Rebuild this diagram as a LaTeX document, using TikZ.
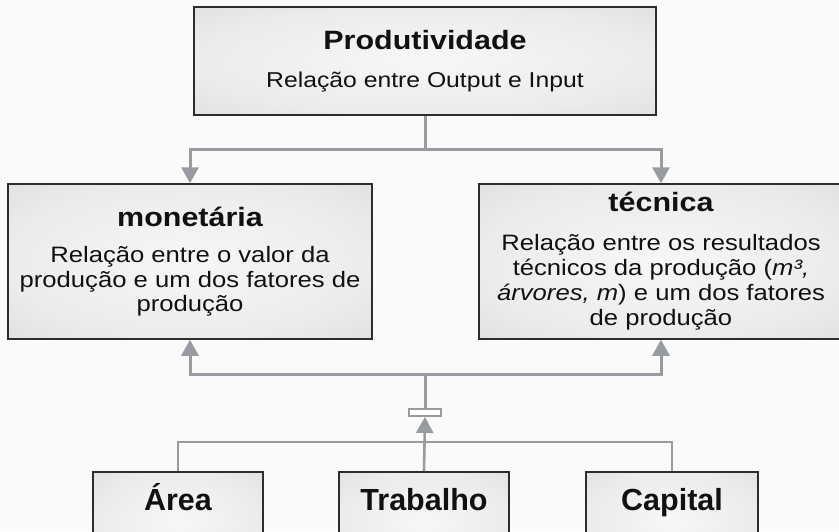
\documentclass[tikz,border=0pt]{standalone}
\usepackage{fontspec}
\setmainfont{Liberation Sans}[FakeStretch=1.15]
\newfontfamily\narrowsans{Liberation Sans}
\usetikzlibrary{arrows.meta}
\definecolor{boxin}{RGB}{247,247,247}
\definecolor{boxout}{RGB}{208,208,210}
\definecolor{conncol}{RGB}{152,156,161}
\definecolor{bordercol}{RGB}{45,45,47}
\definecolor{bgcol}{RGB}{250,250,250}
\definecolor{txtcol}{RGB}{17,17,17}
\pgfdeclareradialshading{boxshade}{\pgfpoint{0bp}{0bp}}{color(0bp)=(boxin); color(25bp)=(boxin!70!boxout); color(55bp)=(boxout); color(75bp)=(boxout)}
\tikzset{
  box/.style={draw=bordercol, line width=1.5pt, shading=boxshade, text=txtcol, align=center, inner sep=0pt},
  conn/.style={draw=conncol, line width=3pt},
  lconn/.style={draw=conncol, line width=2.6pt},
  tip/.style={-{Triangle[width=17pt,length=16pt]}},
  barnode/.style={draw=conncol, fill=white, line width=1.8pt, minimum width=32pt, minimum height=7pt, inner sep=0pt},
  bottombox/.style={box, anchor=north, minimum height=100pt, text height=39pt, text depth=61pt, font=\narrowsans\fontsize{30.5}{34}\selectfont\bfseries}
}
\begin{document}
\begin{tikzpicture}[x=1pt,y=-1pt]
\useasboundingbox (0,0) rectangle (839,531);
\clip (0,0) rectangle (839,531);
\fill[bgcol] (0,0) rectangle (839,531);

% top box
\node[box, minimum width=462pt, minimum height=108pt, font=\fontsize{21.5}{24.5}\selectfont] (top) at (425,61)
  {{\fontsize{26.5}{30}\selectfont\bfseries Produtividade}\\[13pt]Relação entre Output e Input};

% middle boxes
\node[box, minimum width=364pt, minimum height=155pt, font=\fontsize{22.3}{24.5}\selectfont] (mon) at (190,261.5)
  {{\fontsize{26.5}{30}\selectfont\bfseries monetária}\\[12pt]Relação entre o valor da\\produção e um dos fatores de\\produção};
\node[box, minimum width=364pt, minimum height=155pt, font=\fontsize{22.3}{25}\selectfont] (tec) at (661,261.5)
  {{\fontsize{26.5}{30}\selectfont\bfseries técnica}\\[14pt]Relação entre os resultados\\técnicos da produção (\textit{m³,}\\\textit{árvores, m}) e um dos fatores\\de produção};

% bottom boxes
\node[bottombox, minimum width=170pt] (area) at (178,471) {Área};
\node[bottombox, minimum width=170pt] (trab) at (424,471) {Trabalho};
\node[bottombox, minimum width=172pt] (cap) at (672,471) {Capital};

% connectors top -> middle
\draw[conn] (top.south) -- ++(0,34) coordinate (tj);
\draw[conn, tip] (tj) -| (mon.north);
\draw[conn, tip] (tj) -| (tec.north);

% connectors bottom -> middle
\coordinate (bj) at (425,374);
\node[barnode] (bar) at (425,412.5) {};
\draw[conn] (bar.north) -- (bj);
\draw[conn, tip] (bj) -| (mon.south);
\draw[conn, tip] (bj) -| (tec.south);

\draw[lconn] (area.north) -- ++(0,-29) -| (cap.north);
\draw[lconn, tip] (trab.north) -- (bar.south);
\end{tikzpicture}
\end{document}
